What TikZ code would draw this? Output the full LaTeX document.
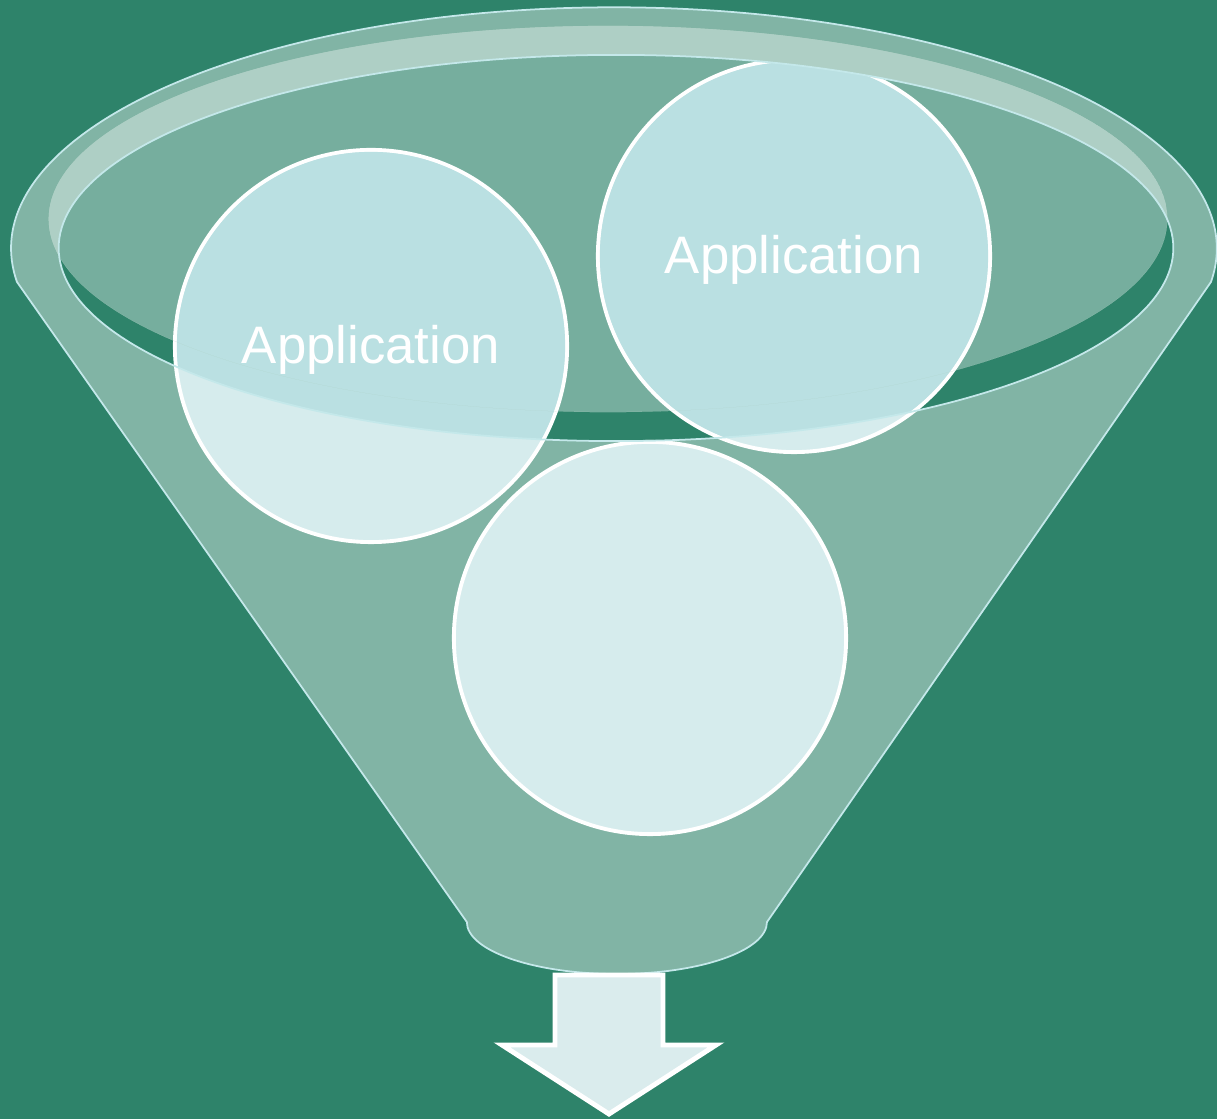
\documentclass[tikz,border=0pt]{standalone}
\usepackage{fontspec}
\setmainfont{Liberation Sans}
\definecolor{bgc}{RGB}{46,131,106}
\definecolor{rimc}{RGB}{196,232,234}
\definecolor{bandc}{RGB}{174,207,197}
\definecolor{ballc}{RGB}{214,236,237}
\definecolor{balldc}{RGB}{186,224,226}
\definecolor{outc}{RGB}{218,236,237}

\begin{document}
\begin{tikzpicture}[x=0.01cm, y=-0.01cm,
  % light balls dropped into the funnel
  ball/.style={circle, minimum size=3.92cm, inner sep=0pt, fill=ballc, draw=white, line width=1.1pt},
  balltext/.style={text=white, font=\fontsize{15pt}{18pt}\selectfont, yshift=-0.04cm},
  rimline/.style={draw=rimc, line width=0.5pt},
]
\useasboundingbox (0,0) rectangle (1217,1119);

%% ── background ───────────────────────────────────────────────────
\fill[bgc] (0,0) rectangle (1217,1119);

%% ── funnel body : top half of the rim, two sides, round spout ───
\path[fill=white, fill opacity=0.4, rimline] (17,282)
  arc[start angle=188, end angle=-8, x radius=6.025cm, y radius=2.41cm]
  -- (767,922)
  arc[start angle=0, end angle=-180, x radius=1.5cm, y radius=0.52cm]
  -- cycle;

%% ── opening (dark) and the glassy lid shifted up ────────────────
\fill[bgc] (616,248) ellipse [x radius=5.57cm, y radius=1.93cm];
\fill[white, fill opacity=0.35] (608,219) ellipse [x radius=5.59cm, y radius=1.93cm];

%% ── balls ───────────────────────────────────────────────────────
\node[ball] (app1) at (371,346) {};
\node[ball] (app2) at (794,256) {};
\node[ball] (app3) at (650,638) {};

% inside the opening the balls look darker
\begin{scope}
  \clip (616,248) ellipse [x radius=5.57cm, y radius=1.93cm];
  \foreach \b in {app1,app2,app3}
    \fill[balldc] (\b.center) circle (1.94cm);
\end{scope}

% lip band lies over the balls
\begin{scope}
  \clip (608,219) ellipse [x radius=5.59cm, y radius=1.93cm];
  \fill[bandc, even odd rule] (608,219) ellipse [x radius=5.59cm, y radius=1.93cm]
    (616,248) ellipse [x radius=5.57cm, y radius=1.93cm];
\end{scope}
\draw[rimline] (616,248) ellipse [x radius=5.57cm, y radius=1.93cm];

%% ── labels ──────────────────────────────────────────────────────
\node[balltext] (lab1) at (app1) {Application};
\node[balltext] (lab2) at (app2) {Application};

%% ── outflow arrow under the spout ───────────────────────────────
\draw[fill=outc, draw=white, line width=1.4pt]
  (555,975) -- (555,1045) -- (502,1045) -- (609,1114) -- (716,1045) -- (663,1045) -- (663,975) -- cycle;

\end{tikzpicture}
\end{document}
